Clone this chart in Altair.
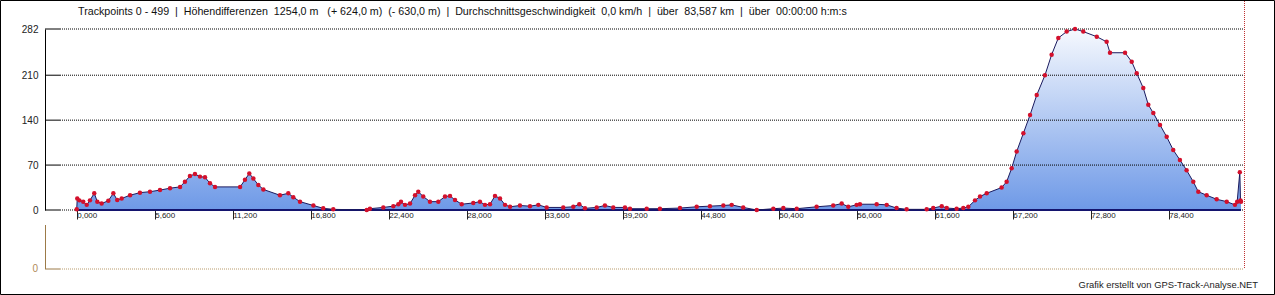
import altair as alt
import pandas as pd

# ---- data ----
km = [0.00, 0.04, 0.19, 0.47, 0.72, 0.95, 1.26, 1.48, 1.79, 2.27, 2.63, 2.91, 3.23, 3.83, 4.54,
      5.26, 5.98, 6.70, 7.42, 7.77, 8.13, 8.49, 8.85, 9.21, 9.57, 9.93, 11.73, 12.08, 12.39,
      12.68, 13.04, 13.40, 14.59, 15.19, 15.55, 16.03, 16.99, 17.70, 18.42, 20.82, 21.05,
      22.01, 22.73, 23.09, 23.28, 23.57, 23.93, 24.29, 24.52, 24.88, 25.36, 25.96, 26.44,
      26.80, 27.16, 27.64, 28.47, 28.95, 29.31, 29.67, 30.03, 30.39, 30.75, 31.11, 31.82,
      32.54, 33.14, 33.74, 34.93, 35.65, 36.08, 36.49, 37.33, 37.92, 38.52, 39.36, 39.72,
      40.92, 41.87, 43.31, 44.51, 45.46, 46.42, 47.02, 47.85, 48.82, 50.01, 50.73, 51.69,
      53.12, 54.31, 54.92, 55.39, 55.99, 56.23, 57.43, 58.15, 58.86, 59.58, 61.02, 61.49,
      62.10, 62.46, 63.17, 63.65, 64.01, 64.49, 64.85, 65.33, 66.40, 66.76, 67.12, 67.48,
      67.96, 68.44, 68.92, 69.51, 69.99, 70.47, 71.07, 71.67, 72.26, 73.23, 73.94, 74.18,
      75.26, 75.74, 76.10, 76.57, 76.93, 77.29, 77.77, 78.25, 78.72, 79.20, 79.68, 80.16,
      80.52, 81.12, 81.84, 82.56, 83.15, 83.31, 83.50, 83.55, 83.587]
elev = [1, 18, 15, 13, 8, 15, 26, 13, 10, 14.5, 26, 15.6, 18, 23, 27,
        28.5, 31, 34, 36, 44, 53, 56, 52, 51, 41.6, 36, 36, 47, 57,
        49, 39, 32, 23, 26, 20, 13, 7, 2.6, 1, 0, 2,
        4, 6, 9, 13, 8, 10, 23, 28.5, 21, 13, 13, 21,
        22, 15.6, 9, 11, 13, 8, 9, 22, 18, 8, 5, 7,
        6, 8, 4, 4, 5, 9, 2.6, 4, 7, 4, 4, 2,
        2, 2, 3, 5, 6, 7, 8, 4, 0, 2, 3, 2,
        5, 7, 10, 5, 8, 9, 9, 8, 3, 1, 1, 3,
        6, 3, 2, 3, 5, 15, 21, 26, 35, 44, 65, 91,
        119.5, 148, 179, 210, 242, 268, 278, 282, 278, 270, 262, 245,
        245, 231, 213, 190, 164, 151, 132.5, 114, 93.5, 78, 62, 44,
        28.5, 23, 16.7, 13, 8, 13, 59, 15, 13]

y_ticks = [0, 70, 140, 210, 282]
x_ticks = [0, 5.6, 11.2, 16.8, 22.4, 28.0, 33.6, 39.2, 44.8, 50.4, 56.0, 61.6, 67.2, 72.8, 78.4]

title_text = ("Trackpoints 0 - 499 \u00a0|\u00a0 Höhendifferenzen \u00a01254,0 m \u00a0\u00a0(+ 624,0 m) "
              "\u00a0(- 630,0 m) \u00a0|\u00a0 Durchschnittsgeschwindigkeit \u00a00,0 km/h \u00a0|\u00a0 "
              "über \u00a083,587 km \u00a0|\u00a0 über \u00a000:00:00 h:m:s")
footer_text = "Grafik erstellt von GPS-Track-Analyse.NET"

W, H = 1199, 181
FONT = "Liberation Sans"

df = pd.DataFrame({"km": km, "elev": elev})
grid_df = pd.DataFrame({"km": [km[0]] * len(y_ticks), "elev": y_ticks})
base_df = pd.DataFrame({"km": [km[0]], "km2": [km[-1]], "elev": [0]})
one = pd.DataFrame({"a": [0]})

xs = alt.Scale(domain=[-2.276, 83.80], nice=False, zero=False)
ys = alt.Scale(domain=[0, 282], nice=False)

x_axis = alt.Axis(values=x_ticks, domain=False, grid=False, tickSize=9, tickColor="#222222",
                  labelExpr="'\u00a0' + replace(format(datum.value, '.3f'), '.', ',')",
                  labelAlign="left", labelBaseline="middle", labelPadding=-4,
                  labelFontSize=8, labelFont=FONT, labelColor="#222222",
                  labelOverlap=False, labelBound=False, labelFlush=False, title=None)
y_axis = alt.Axis(values=y_ticks, grid=False, ticks=False, domain=True, domainColor="#000000",
                  labelPadding=7, labelFontSize=10, labelFont=FONT, labelColor="#222222",
                  labelOverlap=False, title=None)

X = alt.X("km:Q", scale=xs, axis=x_axis)
Y = alt.Y("elev:Q", scale=ys, axis=y_axis)

grad = alt.Gradient(gradient="linear",
                    stops=[alt.GradientStop(color="#f6f9fe", offset=0),
                           alt.GradientStop(color="#6e99e7", offset=1)],
                    x1=1, x2=1, y1=0, y2=1)

area = alt.Chart(df).mark_area(fill=grad, line=False).encode(x=X, y=Y)

grid_dot = alt.Chart(grid_df).mark_rule(color="#000000", strokeDash=[1, 1], strokeWidth=1).encode(
    y=Y, x=alt.value(15), x2=alt.value(W))
grid_tick = alt.Chart(grid_df).mark_rule(color="#000000", strokeWidth=1).encode(
    y=Y, x=alt.value(0), x2=alt.value(15))

baseline = alt.Chart(base_df).mark_rule(color="#14146e", strokeWidth=2).encode(
    x=X, x2="km2:Q", y=Y)

line = alt.Chart(df).mark_line(color="#1a1a5e", strokeWidth=1).encode(x=X, y=Y)
pts = alt.Chart(df).mark_circle(color="#d3102c", size=20, opacity=1).encode(x=X, y=Y)

# decorations (frame, second panel, texts)
frame = alt.Chart(one).mark_rect(filled=False, stroke="#000000", strokeWidth=1).encode(
    x=alt.value(-44.5), x2=alt.value(1229.5), y=alt.value(-28.5), y2=alt.value(265.5))
red_v = alt.Chart(one).mark_rule(color="#c03030", strokeDash=[1, 1], strokeWidth=1).encode(
    x=alt.value(W + 0.5), y=alt.value(-28), y2=alt.value(240))
p2_axis = alt.Chart(one).mark_rule(color="#9c7a48", strokeWidth=1).encode(
    x=alt.value(0.5), y=alt.value(196), y2=alt.value(240))
p2_tick = alt.Chart(one).mark_rule(color="#9c7a48", strokeWidth=1).encode(
    x=alt.value(0), x2=alt.value(15), y=alt.value(240))
p2_dot = alt.Chart(one).mark_rule(color="#b89a6a", strokeDash=[1, 1], strokeWidth=1).encode(
    x=alt.value(15), x2=alt.value(W), y=alt.value(240))
p2_label = alt.Chart(one).mark_text(align="right", baseline="middle", fontSize=10, font=FONT,
                                    color="#b08a58").encode(
    x=alt.value(-7), y=alt.value(240), text=alt.value("0"))
title = alt.Chart(one).mark_text(align="left", baseline="middle", fontSize=10.7, font=FONT,
                                 color="#111111").encode(
    x=alt.value(33), y=alt.value(-17), text=alt.value(title_text))
footer = alt.Chart(one).mark_text(align="right", baseline="middle", fontSize=9.4, font=FONT,
                                  color="#222222").encode(
    x=alt.value(1213), y=alt.value(256), text=alt.value(footer_text))

chart = alt.layer(area, grid_dot, grid_tick, baseline, line, pts,
                  frame, red_v, p2_axis, p2_tick, p2_dot, p2_label, title, footer).properties(
    width=W, height=H,
    padding={"left": 45, "top": 29, "right": 31, "bottom": 85},
    autosize=alt.AutoSizeParams(type="none"),
    background="white",
).configure_view(stroke=None)

chart.save("out.html", embed_options={"renderer": "svg", "actions": False})
